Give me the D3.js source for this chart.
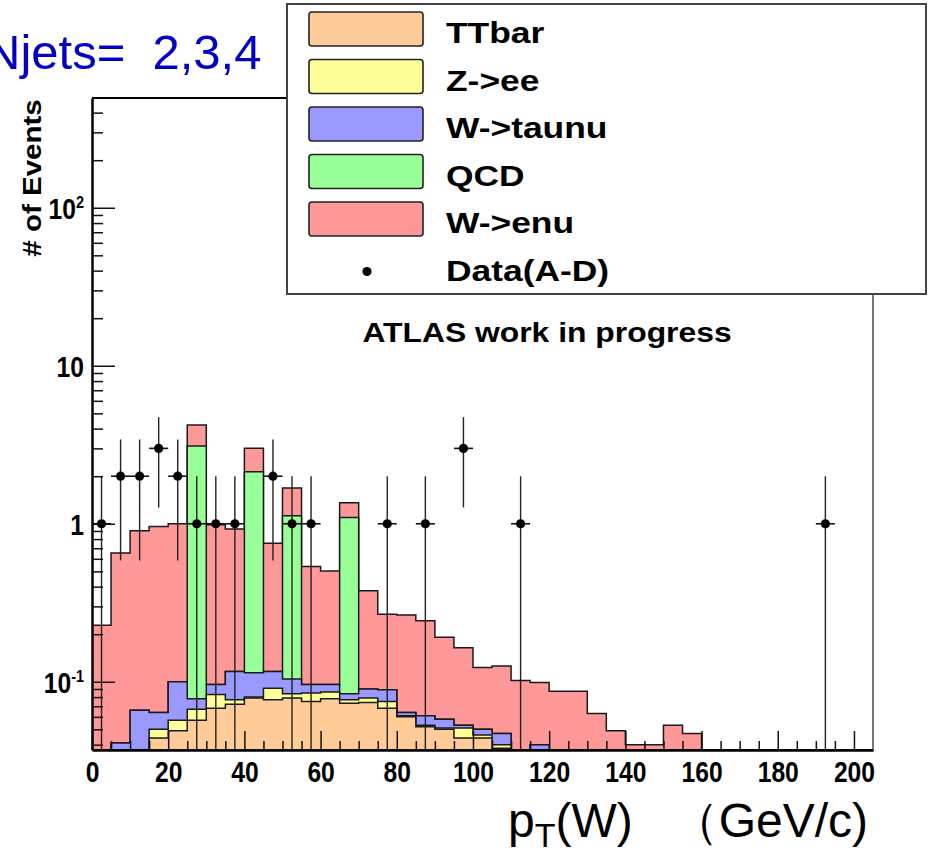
<!DOCTYPE html>
<html>
<head>
<meta charset="utf-8">
<script src="https://cdn.jsdelivr.net/npm/d3@7"></script>
<style>
  html, body { margin: 0; padding: 0; background: #fff; }
  svg { display: block; }
  text { font-family: "Liberation Sans", Arial, Helvetica, sans-serif; }
</style>
</head>
<body>
<svg id="chart" width="930" height="852"></svg>
<script>
// 5 GeV bins from 0 to 205 GeV
const binLow = d3.range(0, 205, 5);

const ttbar = [0, 0, 0, 0.044, 0.049, 0.057, 0.068, 0.072, 0.079, 0.077, 0.079, 0.075, 0.078, 0.073,
  0.074, 0.068, 0.060, 0.052, 0.050, 0.044, 0.044, 0.038, 0, 0, 0, 0, 0, 0, 0, 0, 0, 0, 0, 0, 0, 0, 0, 0, 0, 0, 0];
const zee = [0, 0, 0, 0.006, 0.008, 0.010, 0.015, 0.005, 0.001, 0.014, 0.005, 0.010, 0.008, 0.004,
  0.005, 0.007, 0.001, 0.001, 0.001, 0.007, 0.002, 0.002, 0, 0, 0, 0, 0, 0, 0, 0, 0, 0, 0, 0, 0, 0, 0, 0, 0, 0, 0];
const taunu = [0, 0.041, 0.066, 0.014, 0.043, 0.011, 0.013, 0.039, 0.034, 0.025, 0.020, 0.011, 0.010, 0.007,
  0.011, 0.014, 0.003, 0.008, 0.007, 0.002, 0.004, 0.007, 0, 0.040, 0, 0, 0, 0, 0, 0, 0, 0, 0, 0, 0, 0, 0, 0, 0, 0, 0];
const qcd = [0, 0, 0, 0, 0, 3.03, 0, 0, 2.02, 0, 1.02, 0, 0, 1.01,
  0, 0, 0, 0, 0, 0, 0, 0, 0, 0, 0, 0, 0, 0, 0, 0, 0, 0, 0, 0, 0, 0, 0, 0, 0, 0, 0];
const wenu = [0.228, 0.611, 0.837, 0.898, 0.899, 1.11, 0.889, 0.809, 0.87, 0.638, 0.56, 0.440, 0.406, 0.264,
  0.287, 0.179, 0.201, 0.182, 0.133, 0.111, 0.073, 0.079, 0.102, 0.059, 0.087, 0.087, 0.063, 0.049, 0.040,
  0.040, 0.053, 0.047, 0, 0, 0, 0, 0, 0, 0, 0, 0];
const dataCounts = [1, 2, 2, 3, 2, 1, 1, 1, 0, 2, 1, 1, 0, 0, 0, 1, 0, 1, 0, 3, 0, 0, 1,
  0, 0, 0, 0, 0, 0, 0, 0, 0, 0, 0, 0, 0, 0, 0, 1, 0, 0];

const seriesKeys = ["ttbar", "zee", "taunu", "qcd", "wenu"];
const seriesNames = ["TTbar", "Z->ee", "W->taunu", "QCD", "W->enu"];
const seriesColors = ["#ffcc99", "#ffff99", "#9999ff", "#99ff99", "#ff9999"];
const dataName = "Data(A-D)";

const xTickLabels = d3.range(0, 201, 20);
const yMajorTicks = [0.1, 1, 10, 100];
const yTickLabels = [["10", "-1"], ["1", ""], ["10", ""], ["10", "2"]];

const svg = d3.select("#chart");
const plotLeft = 92, plotRight = 873, plotTop = 98, plotBottom = 750;
const stretch = 1.18;

const x = d3.scaleLinear().domain([0, 205]).range([plotLeft, plotRight]);
const y = d3.scaleLog().domain([0.037, 495]).range([plotBottom, plotTop]);
const floor = y.domain()[0];

svg.append("defs").append("clipPath").attr("id", "plot-clip")
  .append("rect").attr("x", plotLeft).attr("y", plotTop)
  .attr("width", plotRight - plotLeft).attr("height", plotBottom - plotTop);

const table = binLow.map((lo, i) => ({
  lo, ttbar: ttbar[i], zee: zee[i], taunu: taunu[i], qcd: qcd[i], wenu: wenu[i]
}));
const stacked = d3.stack().keys(seriesKeys)(table);

const area = d3.area()
  .curve(d3.curveStepAfter)
  .x((d) => x(d.lo))
  .y0(plotBottom)
  .y1((d) => y(Math.max(d.v, floor)));

const plot = svg.append("g").attr("clip-path", "url(#plot-clip)");

// THStack style: draw the total first, then each lower cumulative on top
stacked.slice().reverse().forEach((layer) => {
  const pts = layer.map((d, i) => ({ lo: binLow[i], v: d[1] }));
  pts.push({ lo: 205, v: pts[pts.length - 1].v });
  plot.append("path")
    .attr("d", area(pts))
    .attr("fill", seriesColors[seriesKeys.indexOf(layer.key)])
    .attr("stroke", "#1a1a1a")
    .attr("stroke-width", 1.5);
});

// data points with sqrt(N) errors
const points = binLow.map((lo, i) => ({ c: lo + 2.5, n: dataCounts[i] })).filter((d) => d.n > 0);
const dataG = plot.append("g");
points.forEach((d) => {
  const err = Math.sqrt(d.n);
  dataG.append("line")
    .attr("x1", x(d.c)).attr("x2", x(d.c))
    .attr("y1", y(Math.max(d.n - err, floor / 2))).attr("y2", y(d.n + err))
    .attr("stroke", "#222").attr("stroke-width", 1.4);
  dataG.append("line")
    .attr("x1", x(d.c - 2.5)).attr("x2", x(d.c + 2.5))
    .attr("y1", y(d.n)).attr("y2", y(d.n))
    .attr("stroke", "#111").attr("stroke-width", 1.6);
  dataG.append("circle")
    .attr("cx", x(d.c)).attr("cy", y(d.n)).attr("r", 4.6).attr("fill", "#000");
});

// frame
svg.append("line").attr("x1", plotLeft).attr("x2", plotRight).attr("y1", plotTop).attr("y2", plotTop)
  .attr("stroke", "#000").attr("stroke-width", 2);
svg.append("line").attr("x1", plotRight).attr("x2", plotRight).attr("y1", plotTop).attr("y2", plotBottom)
  .attr("stroke", "#777").attr("stroke-width", 2);

// x axis
const xAxis = svg.append("g").attr("transform", `translate(0,${plotBottom})`)
  .call(d3.axisBottom(x)
    .tickValues(d3.range(0, 205, 5))
    .tickSize(-9)
    .tickSizeOuter(0)
    .tickPadding(11)
    .tickFormat((d) => (xTickLabels.includes(d) ? d : "")));
xAxis.select(".domain").attr("stroke", "#000").attr("stroke-width", 2.5);
xAxis.selectAll(".tick line")
  .attr("y2", (d) => (xTickLabels.includes(d) ? -19 : -9))
  .attr("stroke", "#111").attr("stroke-width", 1.5);
xAxis.selectAll(".tick text")
  .attr("font-size", 29).attr("font-weight", "bold").attr("fill", "#000")
  .attr("font-family", '"Liberation Sans", Arial, sans-serif')
  .attr("transform", "scale(0.85,1)");

// y axis
const yMinor = [];
[0.01, 0.1, 1, 10, 100].forEach((dec) => {
  d3.range(2, 10).forEach((k) => {
    const v = k * dec;
    if (v > floor && v < y.domain()[1]) yMinor.push(v);
  });
});
const yAxis = svg.append("g").attr("transform", `translate(${plotLeft},0)`)
  .call(d3.axisLeft(y)
    .tickValues(yMinor.concat(yMajorTicks))
    .tickSize(-11)
    .tickSizeOuter(0)
    .tickFormat(""));
yAxis.select(".domain").attr("stroke", "#000").attr("stroke-width", 2.5);
yAxis.selectAll(".tick line")
  .attr("x2", (d) => (yMajorTicks.includes(d) ? 23 : 11))
  .attr("stroke", "#111").attr("stroke-width", 1.5);

yMajorTicks.forEach((v, i) => {
  const [base, sup] = yTickLabels[i];
  const t = svg.append("text")
    .attr("transform", `translate(84,${y(v) + 11}) scale(0.85,1)`)
    .attr("text-anchor", "end")
    .attr("font-size", 29).attr("font-weight", "bold").attr("fill", "#000");
  t.append("tspan").text(base);
  if (sup) {
    t.append("tspan").attr("dy", -11).attr("font-size", 17).text(sup);
  }
});

// y title
svg.append("text")
  .attr("transform", `translate(41,178) rotate(-90) scale(${stretch},1)`)
  .attr("text-anchor", "middle")
  .attr("font-size", 25).attr("font-weight", "bold")
  .text("# of Events");

// top title
svg.append("text")
  .attr("x", -15).attr("y", 69)
  .attr("font-size", 49).attr("fill", "#0000c8")
  .style("white-space", "pre")
  .text("Njets=  2,3,4");

// x title
const xt = svg.append("text").attr("x", 508).attr("y", 837).attr("font-size", 48).attr("fill", "#000");
xt.append("tspan").text("p");
xt.append("tspan").attr("dy", 10).attr("font-size", 34).text("T");
xt.append("tspan").attr("dy", -10).text("(W)");
svg.append("text").attr("x", 868).attr("y", 837).attr("text-anchor", "end")
  .attr("font-size", 48).attr("fill", "#000")
  .text("（GeV/c)");

// ATLAS label
svg.append("text")
  .attr("transform", `translate(547,342) scale(${stretch},1)`)
  .attr("text-anchor", "middle")
  .attr("font-size", 27).attr("font-weight", "bold")
  .text("ATLAS work in progress");

// legend
const legend = svg.append("g");
legend.append("rect")
  .attr("x", 287).attr("y", 4).attr("width", 639).attr("height", 290)
  .attr("fill", "#fff").attr("stroke", "#444").attr("stroke-width", 2);
const rowStep = 47.5;
seriesNames.forEach((name, i) => {
  legend.append("rect")
    .attr("x", 309).attr("y", 12 + rowStep * i).attr("width", 114).attr("height", 34)
    .attr("rx", 3)
    .attr("fill", seriesColors[i]).attr("stroke", "#222").attr("stroke-width", 1.6);
  legend.append("text")
    .attr("transform", `translate(446,${43 + rowStep * i}) scale(${stretch},1)`)
    .attr("font-size", 30).attr("font-weight", "bold")
    .text(name);
});
legend.append("circle").attr("cx", 367).attr("cy", 43 + rowStep * 5 - 9).attr("r", 4.6).attr("fill", "#000");
legend.append("text")
  .attr("transform", `translate(446,${43 + rowStep * 5}) scale(${stretch},1)`)
  .attr("font-size", 30).attr("font-weight", "bold")
  .text(dataName);
</script>
</body>
</html>
